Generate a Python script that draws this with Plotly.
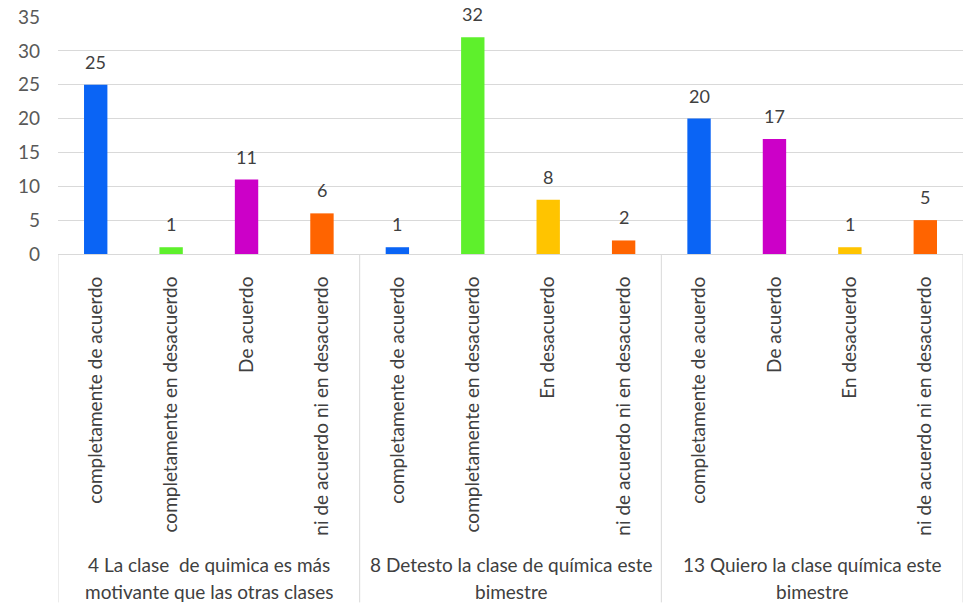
import plotly.graph_objects as go

# Survey answers per statement
groups = [
    "4 La clase  de quimica es más<br>motivante que las otras clases",
    "8 Detesto la clase de química este<br>bimestre",
    "13 Quiero la clase química este<br>bimestre",
]
group_answers = [
    ["completamente de acuerdo", "completamente en desacuerdo", "De acuerdo", "ni de acuerdo ni en desacuerdo"],
    ["completamente de acuerdo", "completamente en desacuerdo", "En desacuerdo", "ni de acuerdo ni en desacuerdo"],
    ["completamente de acuerdo", "De acuerdo", "En desacuerdo", "ni de acuerdo ni en desacuerdo"],
]
group_counts = [
    [25, 1, 11, 6],
    [1, 32, 8, 2],
    [20, 17, 1, 5],
]
answer_colors = {
    "completamente de acuerdo": "#0a64f5",
    "completamente en desacuerdo": "#5ef02c",
    "De acuerdo": "#cc00c8",
    "En desacuerdo": "#ffc400",
    "ni de acuerdo ni en desacuerdo": "#ff6400",
}

FONT = "Lato"
TXT = "#404040"
FS = 19

labels, counts, colors, xs = [], [], [], []
for answers, vals in zip(group_answers, group_counts):
    for a, v in zip(answers, vals):
        xs.append(len(xs))
        labels.append(a)
        counts.append(v)
        colors.append(answer_colors[a])

fig = go.Figure(
    go.Bar(
        x=xs,
        y=counts,
        marker=dict(color=colors, line=dict(width=0)),
        width=0.31,
        hoverinfo="x+y",
    )
)

# value labels above each bar
for x, v in zip(xs, counts):
    fig.add_annotation(
        x=x, y=v, text=str(v), showarrow=False, yanchor="bottom", yshift=10,
        font=dict(family=FONT, size=FS - 1, color=TXT),
    )

# group labels under the category labels, one annotation per line
n = len(group_answers[0])
line_y = [-1.312, -1.422]
for gi, g in enumerate(groups):
    for li, line in enumerate(g.split("<br>")):
        fig.add_annotation(
            x=gi * n + (n - 1) / 2, y=line_y[li], xref="x", yref="paper", text=line,
            showarrow=False, yanchor="middle", align="center",
            font=dict(family=FONT, size=FS, color=TXT),
        )

# group dividers below the axis
for b in [-0.5, 3.5, 7.5, 11.5]:
    fig.add_shape(
        type="line", xref="x", yref="paper", x0=b, x1=b, y0=0, y1=-1.47,
        line=dict(color="#d9d9d9", width=1),
    )

fig.update_layout(
    width=973,
    height=605,
    margin=dict(l=58, r=10, t=17, b=351),
    paper_bgcolor="white",
    plot_bgcolor="white",
    showlegend=False,
    font=dict(family=FONT, size=FS, color=TXT),
    xaxis=dict(
        range=[-0.5, 11.5],
        tickmode="array",
        tickvals=xs,
        ticktext=labels,
        tickangle=-90,
        ticklabelstandoff=14,
        showgrid=False,
        showline=True,
        linecolor="#d9d9d9",
        linewidth=1,
        zeroline=False,
        ticks="",
        automargin=False,
        tickfont=dict(family=FONT, size=FS, color=TXT),
    ),
    yaxis=dict(
        range=[0, 35],
        dtick=5,
        showgrid=True,
        gridcolor="#d9d9d9",
        gridwidth=1,
        zeroline=False,
        showline=False,
        ticks="",
        ticklabelstandoff=17,
        automargin=False,
        tickfont=dict(family=FONT, size=FS, color="#595959"),
    ),
)

fig.write_html("out.html")
